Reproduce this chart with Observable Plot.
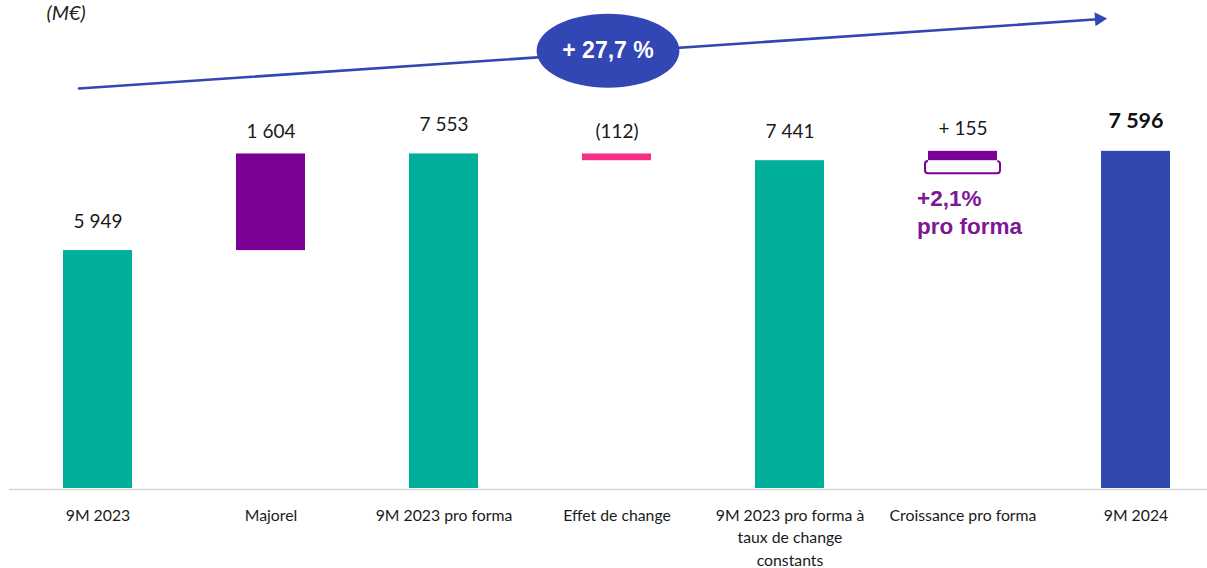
<!DOCTYPE html>
<html>
<head>
<meta charset="utf-8">
<script src="https://cdn.jsdelivr.net/npm/d3@7"></script>
<script src="https://cdn.jsdelivr.net/npm/@observablehq/plot@0.6"></script>
<style>
  html, body { margin: 0; padding: 0; background: #fff; }
  #chart svg { display: block; }
</style>
</head>
<body>
<div id="chart"></div>
<script>
// ---- Data ----
const categories = [
  "9M 2023",
  "Majorel",
  "9M 2023 pro forma",
  "Effet de change",
  "9M 2023 pro forma à taux de change constants",
  "Croissance pro forma",
  "9M 2024"
];
const tickLabels = [
  "9M 2023",
  "Majorel",
  "9M 2023 pro forma",
  "Effet de change",
  "9M 2023 pro forma à\ntaux de change\nconstants",
  "Croissance pro forma",
  "9M 2024"
];
const values = [5949, 1604, 7553, -112, 7441, 155, 7596];
const kinds = ["total", "delta", "total", "delta", "total", "delta", "total"];
const valueLabels = ["5 949", "1 604", "7 553", "(112)", "7 441", "+ 155", "7 596"];
const unitLabel = "(M€)";
const growthLabel = "+ 27,7 %";
const proFormaLabel = "+2,1%\npro forma";
// annotation anchors (data units)
const growthArrow = [{from: "9M 2023", to: "9M 2024", y1: 8640, y2: 9810}];
const growthBadge = [{category: "Effet de change", y: 9267}];

// ---- Build waterfall rows ----
let running = 0;
const rows = categories.map((c, i) => {
  let y1, y2;
  if (kinds[i] === "total") { y1 = 0; y2 = values[i]; running = values[i]; }
  else { y1 = running; y2 = running + values[i]; running = y2; }
  return {category: c, kind: kinds[i], y1, y2, top: Math.max(y1, y2), bottom: Math.min(y1, y2), label: valueLabels[i]};
});
const last = rows[rows.length - 1];
const croissance = rows[5];

const TEAL = "#00ae9a", PURPLE = "#7b0096", PINK = "#f72e82", BLUE = "#3048b0";
const ARROW = "#3246b4";

const ellipseSymbol = {
  draw(ctx, size) {
    const r = Math.sqrt(size / Math.PI);
    const rx = r * 1.93, ry = r, k = 0.5523;
    ctx.moveTo(rx, 0);
    ctx.bezierCurveTo(rx, ry * k, rx * k, ry, 0, ry);
    ctx.bezierCurveTo(-rx * k, ry, -rx, ry * k, -rx, 0);
    ctx.bezierCurveTo(-rx, -ry * k, -rx * k, -ry, 0, -ry);
    ctx.bezierCurveTo(rx * k, -ry, rx, -ry * k, rx, 0);
    ctx.closePath();
  }
};

const chart = Plot.plot({
  width: 1207,
  height: 568,
  marginTop: 0,
  marginBottom: 80,
  marginLeft: 9,
  marginRight: 0,
  style: {fontFamily: "Lato, 'Open Sans', sans-serif", background: "#fff", overflow: "visible"},
  x: {domain: categories, range: [10, 1222.4], paddingInner: 0.6, paddingOuter: 0.3, axis: null},
  y: {domain: [2000, 10100], axis: null},
  color: {type: "ordinal", domain: categories, range: [TEAL, PURPLE, TEAL, PINK, TEAL, PURPLE, BLUE]},
  marks: [
    // bars
    Plot.rectY(rows, {x: "category", y1: "y1", y2: "y2", fill: "category", clip: true}),
    // baseline
    Plot.ruleY([2000], {stroke: "#d6d6d6", strokeWidth: 1.6, dy: 1}),
    // category axis
    Plot.axisX({
      tickSize: 0, tickPadding: 16.5,
      tickFormat: d => tickLabels[categories.indexOf(d)],
      fontSize: 15.8, lineHeight: 1.42, fill: "#1a1a1a"
    }),
    // value labels
    Plot.text(rows.filter(d => d.kind === "total" && d !== last),
      {x: "category", y: "top", text: "label", dy: -29, fontSize: 19, fill: "#1a1a1a"}),
    Plot.text(rows.filter(d => d.kind === "delta"),
      {x: "category", y: "top", text: "label", dy: -22, fontSize: 19, fill: "#1a1a1a"}),
    Plot.text([last],
      {x: "category", y: "top", text: "label", dy: -30, fontSize: 21.5, fontWeight: "bold", fill: "#111"}),
    // bracket under pro forma growth
    Plot.rectY([croissance], {
      x: "category", y1: d => d.bottom - 215, y2: d => d.bottom - 15,
      fill: "none", stroke: PURPLE, strokeWidth: 2, rx: 3,
      insetLeft: -3, insetRight: -3, strokeDasharray: "0 69.3 110 0"
    }),
    Plot.text([croissance], {
      x: "category", y: 6610, text: () => proFormaLabel, dx: -46,
      textAnchor: "start", fontFamily: "'Liberation Sans', Arial, sans-serif",
      fontWeight: "bold", fontSize: 22.5, lineHeight: 1.25, fill: "#7e1696"
    }),
    // growth arrow
    Plot.arrow(growthArrow, {
      x1: "from", x2: "to", y1: "y1", y2: "y2", dx: -19,
      stroke: ARROW, strokeWidth: 2.6, headLength: 0, insetEnd: 16, bend: 0
    }),
    Plot.dot(growthArrow, {
      x: "to", y: d => d.y2 - 18, dx: -37, symbol: "triangle", r: 5.2,
      rotate: 86, fill: ARROW, stroke: "none"
    }),
    Plot.dot(growthBadge, {
      x: "category", y: "y", dx: -9, r: 37, symbol: ellipseSymbol, fill: ARROW, stroke: "none"
    }),
    Plot.text(growthBadge, {
      x: "category", y: "y", dx: -9, text: () => growthLabel,
      fontFamily: "'Liberation Sans', Arial, sans-serif", fontWeight: "bold",
      fontSize: 23, fill: "#fff"
    }),
    // unit label
    Plot.text([unitLabel], {
      frameAnchor: "top-left", dx: 37, dy: 5, text: d => d, textAnchor: "start",
      lineAnchor: "top", fontSize: 20, fontStyle: "italic", fill: "#222"
    })
  ]
});
document.getElementById("chart").appendChild(chart);
</script>
</body>
</html>
